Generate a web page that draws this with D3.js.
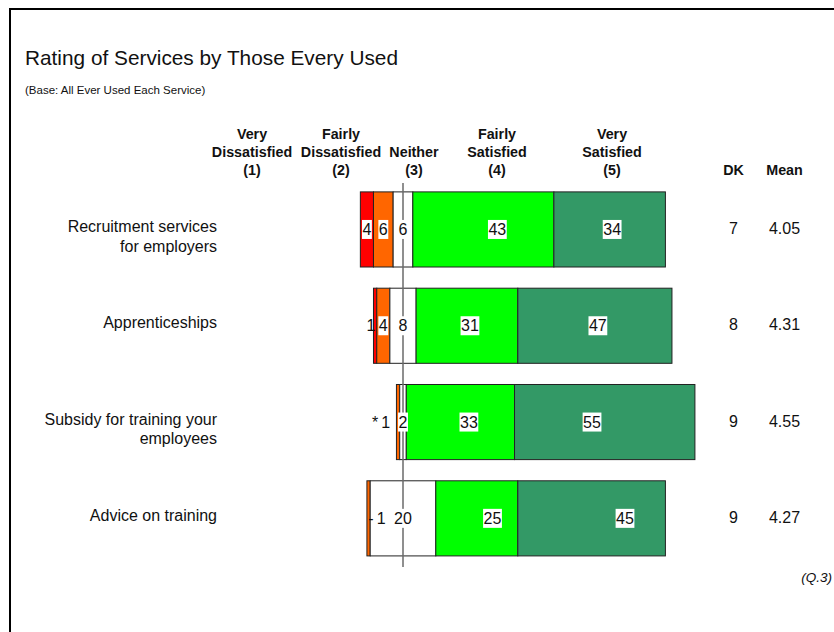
<!DOCTYPE html>
<html>
<head>
<meta charset="utf-8">
<script src="https://cdn.jsdelivr.net/npm/d3@7"></script>
<style>
  html, body { margin: 0; padding: 0; background: #fff; }
  svg { display: block; font-family: "Liberation Sans", Arial, Helvetica, sans-serif; }
</style>
</head>
<body>
<svg id="chart" width="834" height="632"></svg>
<script>
// Services rated (each label may wrap over several lines)
const categories = [
  ["Recruitment services", "for employers"],
  ["Apprenticeships"],
  ["Subsidy for training your", "employees"],
  ["Advice on training"]
];

// Rating scale headings
const ratingHeadings = [
  ["Very", "Dissatisfied", "(1)"],
  ["Fairly", "Dissatisfied", "(2)"],
  ["", "Neither", "(3)"],
  ["Fairly", "Satisfied", "(4)"],
  ["Very", "Satisfied", "(5)"]
];

// Percentages per rating
const veryDissatisfied   = [4, 1, 0, 0];
const fairlyDissatisfied = [6, 4, 1, 1];
const neither            = [6, 8, 2, 20];
const fairlySatisfied    = [43, 31, 33, 25];
const verySatisfied      = [34, 47, 55, 45];

// Printed labels ("*" = under 0.5%, "-" = none)
const veryDissatisfiedText = ["4", "1", "*", "-"];

// Don't know and mean score
const dontKnow = [7, 8, 9, 9];
const meanScore = ["4.05", "4.31", "4.55", "4.27"];

const seriesValues = [veryDissatisfied, fairlyDissatisfied, neither, fairlySatisfied, verySatisfied];
const seriesColors = ["#ff0000", "#ff6600", "#ffffff", "#00ff00", "#339966"];

const svg = d3.select("#chart");

// Outer frame
svg.append("rect")
  .attr("x", 10).attr("y", 9).attr("width", 900).attr("height", 700)
  .attr("fill", "none").attr("stroke", "#000").attr("stroke-width", 2);

// Title block
svg.append("text").attr("x", 25).attr("y", 65)
  .attr("font-size", 20.8).attr("fill", "#111")
  .text("Rating of Services by Those Every Used");
svg.append("text").attr("x", 25).attr("y", 94)
  .attr("font-size", 11.5).attr("fill", "#111")
  .text("(Base: All Ever Used Each Service)");

// Scales: percentages diverge around the middle of "Neither"
const x = d3.scaleLinear().domain([-100, 100]).range([75, 731]);
const y = d3.scaleBand()
  .domain(d3.range(categories.length))
  .range([181.3, 566.5])
  .paddingInner(0.22)
  .paddingOuter(0.11);

// Build stacked segments per row
const rows = categories.map((cat, i) => {
  let start = -(veryDissatisfied[i] + fairlyDissatisfied[i] + neither[i] / 2);
  const segs = seriesValues.map((vals, s) => {
    const seg = { s, v: vals[i], x0: start, x1: start + vals[i] };
    start += vals[i];
    return seg;
  });
  return { i, cat, segs };
});

const rowG = svg.selectAll("g.row").data(rows).join("g")
  .attr("class", "row")
  .attr("transform", d => `translate(0,${y(d.i)})`);

rowG.selectAll("rect.seg").data(d => d.segs).join("rect")
  .attr("class", "seg")
  .attr("x", d => x(d.x0))
  .attr("width", d => x(d.x1) - x(d.x0))
  .attr("y", 0)
  .attr("height", y.bandwidth())
  .attr("fill", d => seriesColors[d.s])
  .attr("stroke", "#222")
  .attr("stroke-width", 1);

// Middle reference line through the "Neither" segments
svg.append("line")
  .attr("x1", x(0)).attr("x2", x(0))
  .attr("y1", 183).attr("y2", 567)
  .attr("stroke", "#6a6a6a").attr("stroke-width", 1.5);

// Value labels
const labelFont = 16;
const boxH = 19;
// horizontal nudges (px) for the satisfied labels of each row
const labelNudge = [[14, 2.5], [3, 3], [8.5, -12.7], [15.7, 33.4]];

function addLabel(g, cx, cy, txt, boxed) {
  const t = g.append("text")
    .attr("x", cx).attr("y", cy + labelFont * 0.35)
    .attr("text-anchor", "middle")
    .attr("font-size", labelFont).attr("fill", "#111")
    .text(txt);
  const w = t.node().getComputedTextLength();
  if (boxed) {
    g.insert("rect", function () { return t.node(); })
      .attr("x", cx - w / 2 - 0.5).attr("y", cy - boxH / 2)
      .attr("width", w + 1).attr("height", boxH)
      .attr("fill", "#fff");
  }
  return { left: cx - w / 2 - (boxed ? 0.5 : 0), w };
}

rows.forEach(r => {
  const g = svg.append("g").attr("transform", `translate(0,${y(r.i)})`);
  const cy = y.bandwidth() / 2;
  const mid = s => (x(r.segs[s].x0) + x(r.segs[s].x1)) / 2;

  // Neither: always centred on its segment
  const nb = addLabel(g, mid(2), cy, String(neither[r.i]), true);
  // Satisfied ratings
  addLabel(g, mid(3) + labelNudge[r.i][0], cy, String(fairlySatisfied[r.i]), true);
  addLabel(g, mid(4) + labelNudge[r.i][1], cy, String(verySatisfied[r.i]), true);

  // Dissatisfied ratings: inside their segment when there is room,
  // otherwise lined up to the left of the label on their right
  let prevLeft = nb.left, gap = 8;
  [[1, String(fairlyDissatisfied[r.i])], [0, veryDissatisfiedText[r.i]]].forEach(([s, txt]) => {
    const probe = g.append("text").attr("font-size", labelFont).text(txt);
    const w = probe.node().getComputedTextLength();
    probe.remove();
    const segW = x(r.segs[s].x1) - x(r.segs[s].x0);
    let info;
    if (segW >= w + 1) {
      info = addLabel(g, mid(s), cy, txt, true);
    } else {
      info = addLabel(g, prevLeft - gap - w / 2, cy, txt, false);
    }
    prevLeft = info.left;
    gap = 3;
  });
});

// Category labels, right-aligned
const catX = 217;
rows.forEach(r => {
  const t = svg.append("text")
    .attr("text-anchor", "end")
    .attr("font-size", 16).attr("fill", "#111");
  r.cat.forEach((line, k) => {
    t.append("tspan")
      .attr("x", catX)
      .attr("y", y(r.i) + y.bandwidth() / 2 - 3 + k * 19.5 + 16 * 0.35)
      .text(line);
  });
});

// Column headings
const headingX = [252, 341, 414, 497, 612];
const headingY = [133.5, 151.5, 169.5];
ratingHeadings.forEach((lines, h) => {
  lines.forEach((line, k) => {
    if (!line) return;
    svg.append("text")
      .attr("x", headingX[h]).attr("y", headingY[k] + 14.3 * 0.35)
      .attr("text-anchor", "middle")
      .attr("font-size", 14.3).attr("font-weight", "bold").attr("fill", "#111")
      .text(line);
  });
});

const dkX = 733.5, meanX = 784.5;
[["DK", dkX], ["Mean", meanX]].forEach(([txt, px]) => {
  svg.append("text")
    .attr("x", px).attr("y", headingY[2] + 14.3 * 0.35)
    .attr("text-anchor", "middle")
    .attr("font-size", 14.3).attr("font-weight", "bold").attr("fill", "#111")
    .text(txt);
});

rows.forEach(r => {
  const cy = y(r.i) + y.bandwidth() / 2 - 1 + 16 * 0.35;
  svg.append("text").attr("x", dkX).attr("y", cy)
    .attr("text-anchor", "middle").attr("font-size", 16).attr("fill", "#111")
    .text(dontKnow[r.i]);
  svg.append("text").attr("x", meanX).attr("y", cy)
    .attr("text-anchor", "middle").attr("font-size", 16).attr("fill", "#111")
    .text(meanScore[r.i]);
});

// Question reference
svg.append("text")
  .attr("x", 832).attr("y", 577 + 13.5 * 0.35)
  .attr("text-anchor", "end")
  .attr("font-size", 13.5).attr("font-style", "italic").attr("fill", "#111")
  .text("(Q.3)");
</script>
</body>
</html>
